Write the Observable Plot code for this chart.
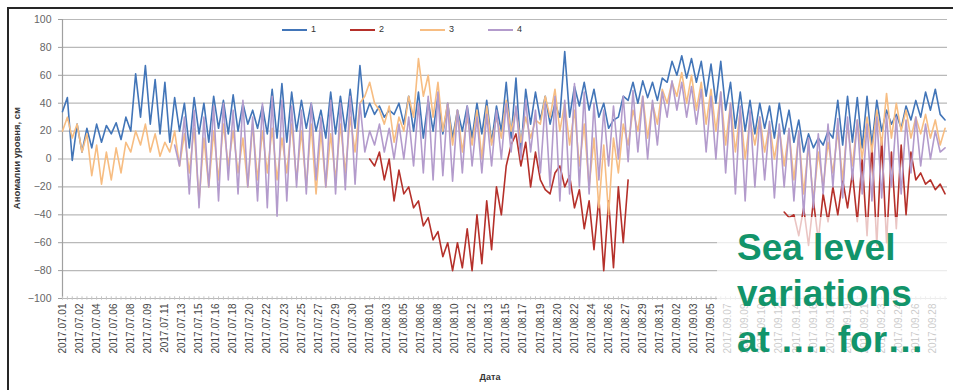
<!DOCTYPE html>
<html>
<head>
<meta charset="utf-8">
<script src="https://cdn.jsdelivr.net/npm/d3@7"></script>
<script src="https://cdn.jsdelivr.net/npm/@observablehq/plot@0.6"></script>
<style>
  body { margin: 0; background: #fff; font-family: "Liberation Sans", Arial, sans-serif; }
  #wrap { position: relative; width: 953px; height: 390px; overflow: hidden; background: #fff; }
  #chart { position: absolute; left: 0; top: 0; }
  #frame { position: absolute; left: 7px; top: 7px; right: -4px; bottom: -4px;
           border-top: 2px solid #262626; border-left: 2px solid #262626; pointer-events: none; }
  #ytitle { position: absolute; left: 16px; top: 158px; transform: translate(-50%, -50%) rotate(-90deg);
            white-space: nowrap; font-size: 9.5px; font-weight: bold; color: #333; }
  #xtitle { position: absolute; left: 490px; top: 372px; transform: translateX(-50%);
            font-size: 9px; font-weight: bold; color: #333; }
  #legend { position: absolute; left: 0; top: 0; }
  #legend .item { position: absolute; top: 24px; height: 12px; font-size: 9px; color: #333; }
  #legend .swatch { position: absolute; top: 5px; width: 25px; height: 0; border-top-width: 2px; border-top-style: solid; }
  #legend .lab { position: absolute; left: 29px; top: 0; }
  #veil { position: absolute; left: 717px; top: 217px; width: 236px; height: 173px; background: rgba(255,255,255,0.72); }
  #note { position: absolute; left: 737px; top: 225px; font-size: 37px; line-height: 46px; font-weight: bold;
          color: #12946a; white-space: nowrap; }
</style>
</head>
<body>
<div id="wrap">
  <div id="chart"></div>
  <div id="legend"></div>
  <div id="ytitle">Аномалии уровня, см</div>
  <div id="xtitle">Дата</div>
  <div id="veil"></div>
  <div id="note">Sea level<br>variations<br>at …. for…</div>
  <div id="frame"></div>
</div>
<script>
// Sea level anomalies (cm) at four stations, twice a day from 2017-07-01
const seriesNames = ["1", "2", "3", "4"];
const seriesColors = ["#4275b8", "#b5302a", "#f7bd82", "#b39bcc"];

const level1 = [
  34,44, -1,25, 5,22, 8,25, 12,24, 18,26, 14,30, 20,61, 30,67, 25,57,
  18,55, 12,44, 20,40, 8,44, 18,40, 12,45, 22,42, 18,46, 20,40, 25,35,
  22,38, 18,50, 15,54, 12,48, 20,42, 22,40, 20,35, 15,48, 18,45, 20,50,
  22,67, 30,40, 32,38, 30,35, 32,40, 25,45, 20,48, 15,42, 20,45, 18,40,
  15,35, 20,38, 15,40, 18,42, 12,38, 20,55, 15,58, 5,50, 25,48, 28,45,
  25,40, 30,77, 30,52, 38,55, 35,50, 30,40, 22,28, 30,45, 42,55, 40,56,
  44,55, 42,58, 55,70, 60,74, 58,72, 55,70, 45,68, 40,70, 35,55, 22,48,
  20,42, 18,40, 22,38, 15,40, 18,35, 12,28, 5,18, 8,15, 10,20, 15,42,
  10,45, 12,44, 8,45, 10,42, 20,35, 25,32, 22,38, 28,42, 30,48, 35,50,
  32,28
];

const level2 = [
  null,null, null,null, null,null, null,null, null,null, null,null, null,null, null,null, null,null, null,null,
  null,null, null,null, null,null, null,null, null,null, null,null, null,null, null,null, null,null, null,null,
  null,null, null,null, null,null, null,null, null,null, null,null, null,null, null,null, null,null, null,null,
  null,null, null,0, -5,5, -15,0, -30,-8, -25,-20, -35,-30, -48,-42, -58,-52, -70,-60,
  -80,-60, -78,-50, -80,-40, -75,-30, -65,-20, -40,-5, 10,18, -5,12, -20,5, -15,-22,
  -25,-10, -5,-20, -12,-35, -22,-50, -30,-65, -28,-80, -30,-78, -20,-60, -15,null, null,null,
  null,null, null,null, null,null, null,null, null,null, null,null, null,null, null,null, null,null, null,null,
  null,null, null,null, null,null, null,null, -38,-42, -40,-55, -35,-62, -30,-58, -25,-45, -20,-40,
  -15,-35, -10,-45, 0,-55, 10,-62, 15,-60, 5,-50, 10,-40, 5,-15, -10,-18, -15,-22,
  -18,-25
];

const level3 = [
  20,30, 15,25, 5,18, -12,10, -18,5, -15,8, -10,12, 5,20, 10,25, 5,18,
  2,12, 5,20, -5,18, -10,22, -30,15, -20,20, -15,25, -5,20, -10,15, -20,25,
  -15,20, -10,22, -15,15, -10,25, -15,20, -20,25, -25,20, -20,18, -15,25, -10,30,
  5,40, 45,55, 40,35, 25,38, 12,30, 20,45, 30,72, 45,60, 30,55, 20,40,
  10,35, 5,30, 10,35, 0,38, 10,30, 15,42, 20,35, 12,30, 15,28, 25,45,
  30,50, 20,40, 10,35, -5,25, -20,15, -35,10, -40,15, -10,25, 10,35, 20,45,
  15,40, 25,50, 40,55, 45,62, 40,60, 35,55, 25,50, 20,48, 10,40, 5,35,
  0,28, 10,30, 5,25, 0,22, -5,20, -15,18, -25,10, -30,5, -20,12, -10,20,
  -15,25, -5,28, 0,30, 5,35, 10,47, 15,40, 20,35, 15,30, 18,32, 15,28,
  10,22
];

const level4 = [
  null,null, null,null, null,null, null,null, null,null, null,null, null,null, null,null, null,null, null,null,
  null,null, null,10, -5,30, -25,35, -35,30, -20,38, -30,40, -15,35, -25,42, -20,30,
  -30,40, -35,45, -41,42, -30,38, -20,35, -25,40, -15,30, -20,42, -25,40, -22,45,
  -18,40, 5,20, 10,25, 5,22, 0,25, 0,30, -5,40, -10,45, -15,48, -12,40,
  -16,35, -10,38, -5,30, -10,32, -5,35, 0,40, 5,38, 0,42, 5,35, -10,40,
  -20,45, -30,42, -25,54, -20,48, -25,40, -15,35, -5,38, 0,45, -2,49, 5,45,
  0,42, 10,48, 30,56, 35,55, 30,52, 25,50, 5,45, 0,48, -10,40, -25,38,
  -30,35, -20,30, -15,27, -28,25, -20,22, -30,20, -40,15, -35,18, -25,25, -20,29,
  -28,30, -15,28, -25,25, -30,30, -28,32, -20,30, -25,28, -10,30, -5,25, 0,20,
  5,8
];

const yTicks = [-100, -80, -60, -40, -20, 0, 20, 40, 60, 80, 100];

// Category labels, one every seven 6-hour readings
const tickLabels = [
  "2017.07.01","2017.07.02","2017.07.04","2017.07.06","2017.07.08","2017.07.09","2017.07.11",
  "2017.07.13","2017.07.15","2017.07.16","2017.07.18","2017.07.20","2017.07.22","2017.07.23",
  "2017.07.25","2017.07.27","2017.07.29","2017.07.30","2017.08.01","2017.08.03","2017.08.05",
  "2017.08.06","2017.08.08","2017.08.10","2017.08.12","2017.08.13","2017.08.15","2017.08.17",
  "2017.08.19","2017.08.20","2017.08.22","2017.08.24","2017.08.26","2017.08.27","2017.08.29",
  "2017.08.31","2017.09.02","2017.09.03","2017.09.05","2017.09.07","2017.09.09","2017.09.10",
  "2017.09.12","2017.09.14","2017.09.16","2017.09.17","2017.09.19","2017.09.21","2017.09.23",
  "2017.09.24","2017.09.26","2017.09.28"
];

const HOUR = 3600e3;
const t0 = Date.UTC(2017, 6, 1);
const categoryCount = 364;            // 6-hour categories, 07.01 00h .. 09.29 18h
const sampleStep = 12 * HOUR;         // series values are twice daily

const tickDates = tickLabels.map((_, k) => new Date(t0 + k * 7 * 6 * HOUR));
const labelAt = new Map(tickDates.map((d, k) => [+d, tickLabels[k]]));
const minorDates = d3.range(0, categoryCount, 2).map(i => new Date(t0 + i * 6 * HOUR));

const allSeries = [level1, level2, level3, level4].map((vals, s) =>
  vals.map((v, i) => ({ series: seriesNames[s], t: new Date(t0 + i * sampleStep), v }))
);

const xStart = new Date(t0);
const xEnd = new Date(t0 + (categoryCount - 1) * 6 * HOUR);

const chart = Plot.plot({
  width: 953,
  height: 390,
  marginLeft: 62,
  marginRight: 6,
  marginTop: 19,
  marginBottom: 92,
  style: { background: "transparent", fontFamily: "Liberation Sans, Arial, sans-serif" },
  x: { type: "utc", domain: [xStart, xEnd] },
  y: { domain: [-100, 100] },
  marks: [
    Plot.ruleY(yTicks, { stroke: "#b9b9b9", strokeWidth: 1.2 }),
    Plot.ruleX([xStart], { y1: -100, y2: 100, stroke: "#a0a0a0", strokeWidth: 1.2 }),
    Plot.ruleX(minorDates, { x: d => d, y1: -101.2, y2: -98.8, stroke: "#c4c4c4", strokeWidth: 1 }),
    Plot.axisY({ ticks: yTicks, tickSize: 4, tickPadding: 7, fontSize: 10.5, fill: "#666", stroke: "#a0a0a0", label: null }),
    Plot.axisX({
      ticks: tickDates, tickFormat: d => labelAt.get(+d), tickRotate: -90,
      tickSize: 0, tickPadding: 5, fontSize: 10, fill: "#444", label: null
    }),
    ...allSeries.map((rows, s) =>
      Plot.lineY(rows, { x: "t", y: "v", stroke: seriesColors[s], strokeWidth: 1.6, strokeLinejoin: "round" })
    )
  ]
});
document.getElementById("chart").appendChild(chart);

// legend across the top of the plot
const legendX = [282, 350, 420, 488];
const legend = document.getElementById("legend");
seriesNames.forEach((name, s) => {
  const item = document.createElement("div");
  item.className = "item";
  item.style.left = legendX[s] + "px";
  item.innerHTML = `<span class="swatch" style="border-top-color:${seriesColors[s]}"></span><span class="lab">${name}</span>`;
  legend.appendChild(item);
});
</script>
</body>
</html>
